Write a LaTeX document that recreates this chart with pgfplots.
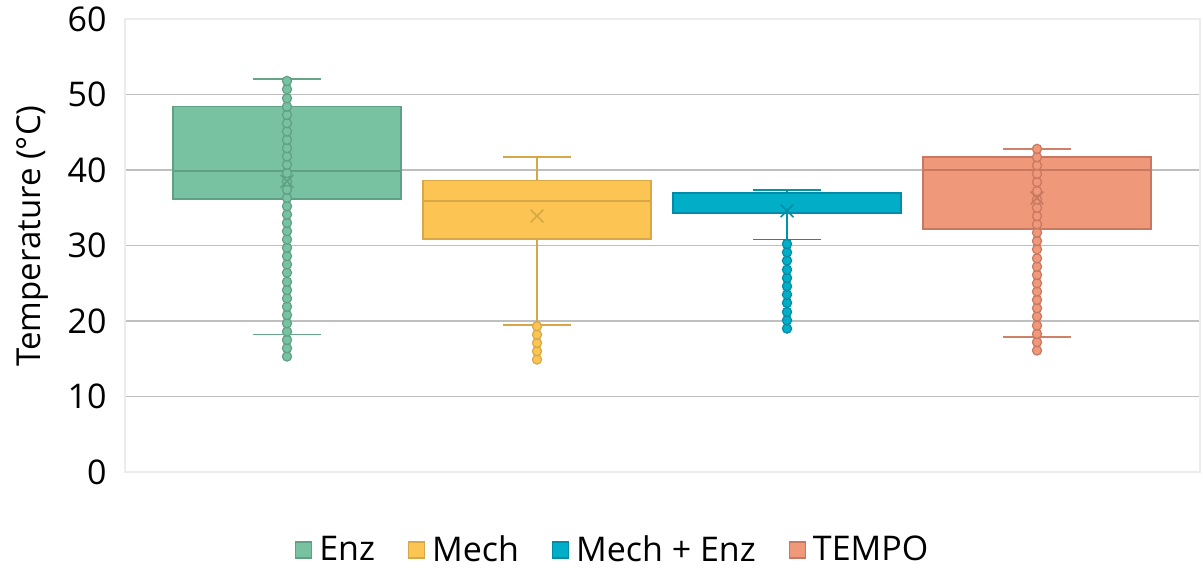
\documentclass[border=0pt]{standalone}
\usepackage{pgfplots}
\pgfplotsset{compat=1.18}
\usepackage{fontspec}
\setmainfont{Open Sans}
\definecolor{cEnz}{RGB}{121,194,161}
\definecolor{cEnzD}{RGB}{96,160,132}
\definecolor{cMech}{RGB}{252,196,82}
\definecolor{cMechD}{RGB}{216,168,72}
\definecolor{cME}{RGB}{0,174,200}
\definecolor{cMED}{RGB}{0,140,166}
\definecolor{cTem}{RGB}{240,152,122}
\definecolor{cTemD}{RGB}{200,120,96}
\definecolor{grid}{RGB}{236,236,236}
\begin{document}
\begin{tikzpicture}
\path[use as bounding box] (-62.5pt,-48pt) rectangle (539pt,236pt);
\begin{axis}[
  at={(0,0)}, anchor=south west,
  scale only axis, width=537.5pt, height=226.5pt,
  xmin=-0.648, xmax=3.652, ymin=0, ymax=60,
  xtick=\empty, ytick={0,10,...,60},
  unbounded coords=jump,
  ymajorgrids, grid style={grid, line width=0.9pt},
  axis line style={grid, line width=0.9pt},
  major tick length=0pt,
  /pgf/number format/assume math mode=true,
  tick label style={font=\fontsize{17}{20}\selectfont},
  yticklabel style={anchor=east, inner sep=0pt, xshift=-9pt},
  ylabel={Temperature (°C)},
  ylabel style={font=\fontsize{16.5}{19}\selectfont, at={(axis description cs:-0.0856,0.521)}, anchor=center},
  legend columns=4,
  legend style={draw=none, fill=none, at={(axis description cs:0.456,-0.172)}, anchor=center,
    font=\fontsize{17}{20}\selectfont, inner sep=0pt,
    /tikz/every even column/.append style={column sep=13pt},
    nodes={inner xsep=3.5pt, inner ysep=0pt}},
]
% legend entries
\addlegendimage{legend image code/.code={\draw[fill=cEnz, draw=cEnzD, line width=0.6pt] (0pt,-4pt) rectangle (8pt,4pt);}}
\addlegendentry{Enz}
\addlegendimage{legend image code/.code={\draw[fill=cMech, draw=cMechD, line width=0.6pt] (0pt,-4pt) rectangle (8pt,4pt);}}
\addlegendentry{Mech}
\addlegendimage{legend image code/.code={\draw[fill=cME, draw=cMED, line width=0.6pt] (0pt,-4pt) rectangle (8pt,4pt);}}
\addlegendentry{Mech + Enz}
\addlegendimage{legend image code/.code={\draw[fill=cTem, draw=cTemD, line width=0.6pt] (0pt,-4pt) rectangle (8pt,4pt);}}
\addlegendentry{TEMPO}
% whiskers (lower cap, lower line, upper line, upper cap)
\addplot[draw=cEnz!85!black, line width=0.9pt] coordinates {(-0.136,18.2)(0.136,18.2)(0,nan)(0,18.2)(0,36.2)(0,nan)(0,48.4)(0,52.1)(0,nan)(-0.136,52.1)(0.136,52.1)};
\addplot[draw=cMech!85!black, line width=0.9pt] coordinates {(0.864,19.5)(1.136,19.5)(1,nan)(1,19.5)(1,30.9)(1,nan)(1,38.6)(1,41.7)(1,nan)(0.864,41.7)(1.136,41.7)};
\addplot[draw=cME!85!black, line width=0.9pt] coordinates {(1.864,30.8)(2.136,30.8)(2,nan)(2,30.8)(2,34.3)(2,nan)(2,37.0)(2,37.3)(2,nan)(1.864,37.3)(2.136,37.3)};
\addplot[draw=cTem!85!black, line width=0.9pt] coordinates {(2.864,17.9)(3.136,17.9)(3,nan)(3,17.9)(3,32.2)(3,nan)(3,41.7)(3,42.8)(3,nan)(2.864,42.8)(3.136,42.8)};
% boxes (lower quartile, upper quartile)
\addplot[fill=cEnz, draw=cEnzD, line width=0.8pt] coordinates {(-0.456,36.2)(0.456,36.2)(0.456,48.4)(-0.456,48.4)} -- cycle;
\addplot[fill=cMech, draw=cMechD, line width=0.8pt] coordinates {(0.544,30.9)(1.456,30.9)(1.456,38.6)(0.544,38.6)} -- cycle;
\addplot[fill=cME, draw=cMED, line width=0.8pt] coordinates {(1.544,34.3)(2.456,34.3)(2.456,37.0)(1.544,37.0)} -- cycle;
\addplot[fill=cTem, draw=cTemD, line width=0.8pt] coordinates {(2.544,32.2)(3.456,32.2)(3.456,41.7)(2.544,41.7)} -- cycle;
% medians
\addplot[draw=cEnzD, line width=0.8pt] coordinates {(-0.456,39.9)(0.456,39.9)};
\addplot[draw=cMechD, line width=0.8pt] coordinates {(0.544,35.9)(1.456,35.9)};
\addplot[draw=cMED, line width=0.8pt] coordinates {(1.544,36.9)(2.456,36.9)};
\addplot[draw=cTemD, line width=0.8pt] coordinates {(2.544,40.0)(3.456,40.0)};
% points
\addplot[only marks, mark=*, mark size=2.3pt, mark options={fill=cEnz, draw=cEnzD, line width=0.6pt}] coordinates {
(0,15.3)(0,16.4)(0,17.5)(0,18.6)(0,19.7)(0,20.8)(0,21.9)(0,23.0)(0,24.1)(0,25.2)(0,26.4)(0,27.5)
(0,28.6)(0,29.7)(0,30.8)(0,31.9)(0,33.0)(0,34.1)(0,35.2)(0,36.3)(0,37.4)(0,38.5)(0,39.6)(0,40.7)
(0,41.8)(0,42.9)(0,44.0)(0,45.1)(0,46.2)(0,47.3)(0,48.4)(0,49.5)(0,50.7)(0,51.8)};
\addplot[only marks, mark=*, mark size=2.3pt, mark options={fill=cMech, draw=cMechD, line width=0.6pt}] coordinates {
(1,14.9)(1,16.0)(1,17.1)(1,18.2)(1,19.3)};
\addplot[only marks, mark=*, mark size=2.3pt, mark options={fill=cME, draw=cMED, line width=0.6pt}] coordinates {
(2,19.0)(2,20.1)(2,21.2)(2,22.4)(2,23.5)(2,24.6)(2,25.7)(2,26.8)(2,28.0)(2,29.1)(2,30.2)};
\addplot[only marks, mark=*, mark size=2.3pt, mark options={fill=cTem, draw=cTemD, line width=0.6pt}] coordinates {
(3,16.1)(3,17.2)(3,18.3)(3,19.4)(3,20.6)(3,21.7)(3,22.8)(3,23.9)(3,25.0)(3,26.1)(3,27.2)(3,28.3)(3,29.5)
(3,30.6)(3,31.7)(3,32.8)(3,33.9)(3,35.0)(3,36.1)(3,37.2)(3,38.4)(3,39.5)(3,40.6)(3,41.7)(3,42.8)};
% means
\addplot[only marks, mark=x, mark size=4.5pt, mark options={draw=cEnzD, line width=0.8pt}] coordinates {(0,38.5)};
\addplot[only marks, mark=x, mark size=4.5pt, mark options={draw=cMechD, line width=0.8pt}] coordinates {(1,33.9)};
\addplot[only marks, mark=x, mark size=4.5pt, mark options={draw=cMED, line width=0.8pt}] coordinates {(2,34.6)};
\addplot[only marks, mark=x, mark size=4.5pt, mark options={draw=cTemD, line width=0.8pt}] coordinates {(3,36.3)};
\end{axis}
\end{tikzpicture}
\end{document}
